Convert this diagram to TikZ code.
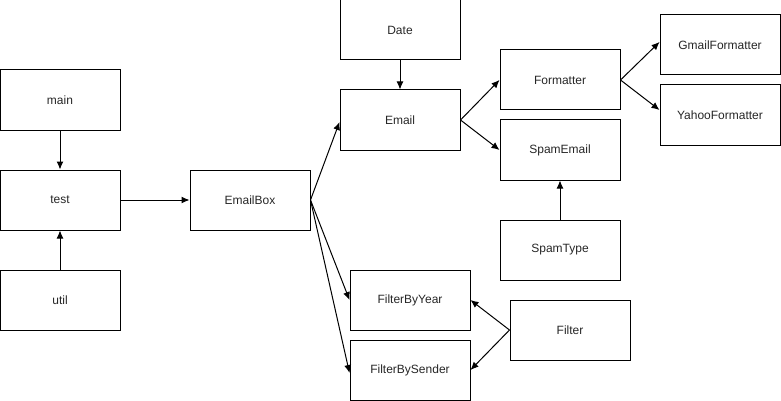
\documentclass[tikz,border=0pt]{standalone}
\usepackage{fontspec}
\setmainfont{Liberation Sans}
\usetikzlibrary{arrows.meta}

\begin{document}
\begin{tikzpicture}[x=1pt, y=-1pt,
        box/.style={draw, line width=1pt, minimum width=120pt, minimum height=60pt, inner sep=0pt,
                    font=\fontsize{12}{14}\selectfont, text=black!85},
        link/.style={line width=1pt, -{Latex[length=8pt, width=7pt]}}]
                \useasboundingbox (0, 0) rectangle (781, 401);
                % left column
                \node [box] (main) at (60, 100) {main};
                \node [box] (test) at (60, 200) {test};
                \node [box] (util) at (60, 300) {util};
                \node [box] (emailbox) at (250, 200) {EmailBox};
                % email part
                \node [box] (date) at (400, 30) {Date};
                \node [box] (email) at (400, 120) {Email};
                \node [box] (formatter) at (560, 80) {Formatter};
                \node [box] (spamemail) at (560, 150) {SpamEmail};
                \node [box] (spamtype) at (560, 250) {SpamType};
                \node [box] (gmail) at (720, 45) {GmailFormatter};
                \node [box] (yahoo) at (720, 115) {YahooFormatter};
                % filters
                \node [box] (byyear) at (410, 300) {FilterByYear};
                \node [box] (bysender) at (410, 370) {FilterBySender};
                \node [box] (filter) at (570, 330) {Filter};

                \draw [link] (main) -- (test);
                \draw [link] (util) -- (test);
                \draw [link] (test) -- (emailbox);
                \draw [link] (emailbox.east) -- ([yshift=-2]email.west);
                \draw [link] (emailbox.east) -- (byyear.west);
                \draw [link] (emailbox.east) -- ([yshift=-3]bysender.west);
                \draw [link] (date) -- (email);
                \draw [link] (email.east) -- (formatter.west);
                \draw [link] (email.east) -- (spamemail.west);
                \draw [link] (formatter.east) -- ([yshift=3]gmail.west);
                \draw [link] (formatter.east) -- ([yshift=5]yahoo.west);
                \draw [link] (spamtype) -- (spamemail);
                \draw [link] (filter.west) -- (byyear.east);
                \draw [link] (filter.west) -- (bysender.east);
            \end{tikzpicture}
\end{document}
